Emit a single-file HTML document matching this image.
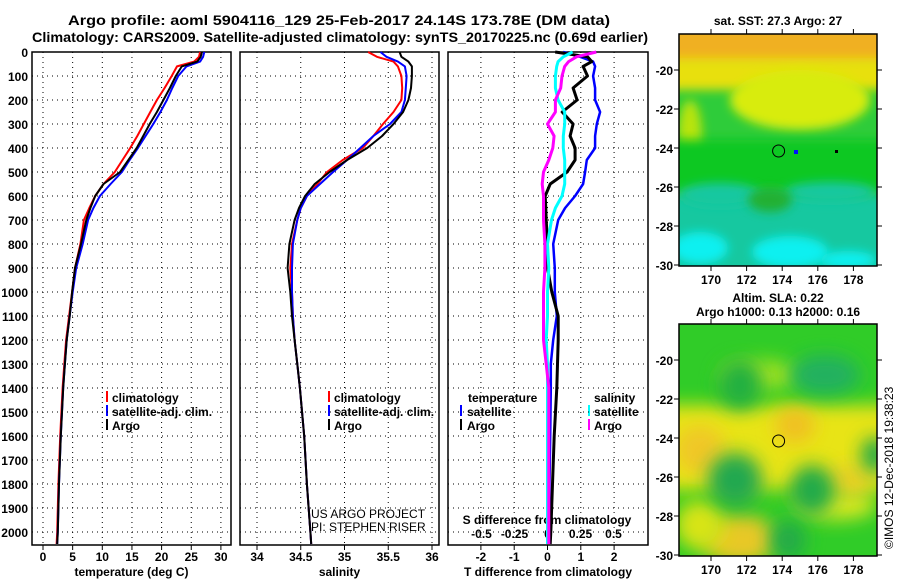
<!DOCTYPE html>
<html><head><meta charset="utf-8"><style>
html,body{margin:0;padding:0;background:#fff;}
svg{display:block;font-family:"Liberation Sans",sans-serif;font-weight:bold;}
</style></head><body>
<svg id="c" width="900" height="580" viewBox="0 0 900 580">
<defs>
<filter id="bl" x="-60%" y="-60%" width="220%" height="220%"><feGaussianBlur stdDeviation="9"/></filter>
<filter id="bl2" x="-60%" y="-60%" width="220%" height="220%"><feGaussianBlur stdDeviation="5"/></filter>
<clipPath id="cm1"><rect x="679" y="34" width="198" height="232"/></clipPath>
<clipPath id="cm2"><rect x="679" y="324" width="198" height="232"/></clipPath>
</defs>
<text x="68" y="25" textLength="542" lengthAdjust="spacingAndGlyphs" font-size="14">Argo profile: aoml 5904116_129 25-Feb-2017 24.14S 173.78E (DM data)</text>
<text x="32" y="42" textLength="616" lengthAdjust="spacingAndGlyphs" font-size="14">Climatology: CARS2009. Satellite-adjusted climatology: synTS_20170225.nc (0.69d earlier)</text>

<g>
<g clip-path="url(#cm1)">
<rect x="679" y="34" width="198" height="232" fill="#2ecc3a"/>
<rect x="660" y="20" width="240" height="50" fill="#f0b020" filter="url(#bl2)"/>
<rect x="660" y="58" width="240" height="32" fill="#e8e010" filter="url(#bl2)"/>
<ellipse cx="800" cy="100" rx="70" ry="30" fill="#d8ec10" filter="url(#bl2)"/>
<ellipse cx="690" cy="135" rx="12" ry="35" fill="#b8e410" filter="url(#bl2)"/>
<rect x="660" y="140" width="240" height="50" fill="#10c820" filter="url(#bl2)"/>
<rect x="660" y="195" width="240" height="90" fill="#12c8a0" filter="url(#bl2)"/>
<ellipse cx="720" cy="195" rx="40" ry="12" fill="#12c8a0" filter="url(#bl2)"/>
<ellipse cx="830" cy="192" rx="45" ry="10" fill="#12c8a0" filter="url(#bl2)"/>
<ellipse cx="770" cy="200" rx="22" ry="12" fill="#20b030" filter="url(#bl2)"/>
<ellipse cx="700" cy="248" rx="28" ry="16" fill="#10f0f0" filter="url(#bl2)"/>
<ellipse cx="790" cy="252" rx="38" ry="16" fill="#10f0f0" filter="url(#bl2)"/>
<ellipse cx="848" cy="260" rx="28" ry="9" fill="#10f0f0" filter="url(#bl2)"/>
<rect x="794" y="150" width="4" height="4" fill="#0010ff"/>
<rect x="835" y="150" width="3" height="3" fill="#000"/>
</g>
<rect x="679" y="34" width="198" height="232" fill="none" stroke="#000" stroke-width="1.5"/>
<circle cx="778.6" cy="151" r="6" fill="none" stroke="#000"/>
<text x="778" y="25" text-anchor="middle" font-size="12">sat. SST: 27.3 Argo: 27</text>
</g>
<g>
<g clip-path="url(#cm2)">
<rect x="679" y="324" width="198" height="232" fill="#30cc28"/>
<rect x="660" y="405" width="240" height="85" fill="#e8e418" filter="url(#bl)"/>
<ellipse cx="700" cy="450" rx="25" ry="25" fill="#f0c828" filter="url(#bl)"/>
<ellipse cx="795" cy="425" rx="20" ry="18" fill="#f0c020" filter="url(#bl)"/>
<ellipse cx="760" cy="375" rx="40" ry="15" fill="#a0e020" filter="url(#bl)"/>
<ellipse cx="740" cy="540" rx="38" ry="25" fill="#e8c828" filter="url(#bl)"/>
<ellipse cx="700" cy="525" rx="25" ry="25" fill="#d8e418" filter="url(#bl)"/>
<ellipse cx="835" cy="505" rx="42" ry="15" fill="#d8e820" filter="url(#bl)"/>
<ellipse cx="850" cy="480" rx="25" ry="15" fill="#e8d028" filter="url(#bl)"/>
<ellipse cx="735" cy="480" rx="27" ry="27" fill="#20a850" filter="url(#bl)"/>
<ellipse cx="740" cy="385" rx="22" ry="25" fill="#22b040" filter="url(#bl)"/>
<ellipse cx="825" cy="375" rx="35" ry="20" fill="#20b060" filter="url(#bl)"/>
<ellipse cx="812" cy="490" rx="22" ry="25" fill="#22aa48" filter="url(#bl)"/>
<ellipse cx="788" cy="540" rx="18" ry="20" fill="#22aa48" filter="url(#bl)"/>
<ellipse cx="875" cy="455" rx="14" ry="18" fill="#22aa48" filter="url(#bl)"/>
</g>
<rect x="679" y="324" width="198" height="232" fill="none" stroke="#000" stroke-width="1.5"/>
<circle cx="778.6" cy="441" r="6" fill="none" stroke="#000"/>
<text x="778" y="302" text-anchor="middle" font-size="12">Altim. SLA: 0.22</text>
<text x="778" y="316" text-anchor="middle" font-size="12">Argo h1000: 0.13 h2000: 0.16</text>
</g>
<text transform="translate(893,549) rotate(-90)" font-size="12" font-weight="normal">©IMOS 12-Dec-2018 19:38:23</text>

<g>
<rect x="106" y="391" width="2" height="11" fill="#f00"/><text x="112" y="402" font-size="12">climatology</text>
<rect x="106" y="405" width="2" height="11" fill="#00f"/><text x="112" y="416" font-size="12">satellite-adj. clim.</text>
<rect x="106" y="419" width="2" height="11" fill="#000"/><text x="112" y="430" font-size="12">Argo</text>
</g>
<g>
<rect x="328" y="391" width="2" height="11" fill="#f00"/><text x="334" y="402" font-size="12">climatology</text>
<rect x="328" y="405" width="2" height="11" fill="#00f"/><text x="334" y="416" font-size="12">satellite-adj. clim.</text>
<rect x="328" y="419" width="2" height="11" fill="#000"/><text x="334" y="430" font-size="12">Argo</text>
</g>
<text x="311" y="518" font-size="12" font-weight="normal">US ARGO PROJECT</text>
<text x="311" y="531" font-size="12" font-weight="normal">PI: STEPHEN RISER</text>
<g>
<text x="468" y="402" font-size="12">temperature</text>
<rect x="460" y="405" width="2" height="11" fill="#00f"/><text x="467" y="416" font-size="12">satellite</text>
<rect x="460" y="419" width="2" height="11" fill="#000"/><text x="467" y="430" font-size="12">Argo</text>
<text x="594" y="402" font-size="12">salinity</text>
<rect x="588" y="405" width="2" height="11" fill="#0ff"/><text x="594" y="416" font-size="12">satellite</text>
<rect x="588" y="419" width="2" height="11" fill="#f0f"/><text x="594" y="430" font-size="12">Argo</text>
</g>
<text x="547" y="524" text-anchor="middle" font-size="12">S difference from climatology</text>
</svg>
<script>
const depths=[0,20,40,60,100,150,200,250,300,350,400,450,500,550,600,650,700,800,900,1000,1100,1200,1300,1400,1600,1800,2000,2050];
const tempClim=[26.5,26.3,25.5,22.6,21.7,20.5,19.2,18.1,17.0,15.9,14.7,13.4,12.1,10.2,8.8,7.8,6.9,6.3,5.4,4.9,4.4,3.9,3.6,3.3,2.9,2.6,2.4,2.3];
const tempSat=[27.2,27.0,26.5,24.2,22.8,21.8,20.9,19.8,18.6,17.3,16.0,14.6,13.3,11.4,9.6,8.5,7.6,6.7,5.6,5.0,4.5,4.0,3.7,3.4,3.0,2.7,2.5,2.4];
const tempArgo=[26.8,26.6,26.0,23.4,22.4,21.4,20.3,19.2,18.0,16.9,15.8,14.4,13.0,10.2,8.8,8.0,7.3,6.4,5.4,4.9,4.5,4.0,3.7,3.4,3.0,2.7,2.5,2.4];
const salClim=[35.27,35.37,35.56,35.61,35.65,35.66,35.65,35.56,35.44,35.33,35.21,34.98,34.80,34.69,34.57,34.50,34.46,34.40,34.38,34.40,34.41,34.43,34.46,34.49,34.54,34.57,34.61,34.62];
const salSat=[35.41,35.48,35.61,35.69,35.71,35.70,35.69,35.65,35.52,35.33,35.18,35.03,34.87,34.72,34.57,34.50,34.46,34.41,34.40,34.40,34.41,34.43,34.46,34.49,34.54,34.57,34.61,34.62];
const salArgo=[35.63,35.65,35.73,35.77,35.77,35.76,35.73,35.67,35.56,35.43,35.26,35.03,34.83,34.66,34.55,34.48,34.43,34.37,34.35,34.38,34.40,34.43,34.46,34.49,34.54,34.57,34.61,34.62];
const dTSat=[0.47,0.98,1.37,1.43,1.37,1.43,1.43,1.58,1.48,1.43,1.43,1.18,1.13,1.07,0.83,0.53,0.32,0.17,0.22,0.22,0.28,0.17,0.1,0.1,0.08,0.06,0.05,0.05];
const dTArgo=[0.23,1.2,1.33,1.07,1.2,0.77,0.89,0.44,0.77,0.68,0.83,0.83,0.59,0.08,-0.07,-0.05,-0.04,0,0,0.13,0.32,0.32,0.3,0.28,0.2,0.15,0.1,0.08];
const dSSat=[0.19,0.12,0.08,0.07,0.06,0.06,0.08,0.13,0.13,0.12,0.12,0.13,0.13,0.13,0.11,0.06,0.03,0,0.01,0,0,-0.01,0,0,0,0,0,0];
const dSArgo=[0.37,0.22,0.16,0.13,0.11,0.10,0.06,0.06,0,0.05,0.04,0.01,-0.03,-0.04,-0.03,-0.03,-0.03,-0.02,-0.02,-0.03,-0.03,-0.03,-0.01,0.01,0.01,0.01,0.01,0.01];
const depthTicks=[0,100,200,300,400,500,600,700,800,900,1000,1100,1200,1300,1400,1500,1600,1700,1800,1900,2000];
const tempTicks=[0,5,10,15,20,25,30];
const salTicks=[34,34.5,35,35.5,36];
const salTickLabels=["34","34.5","35","35.5","36"];
const dTTicks=[-2,-1,0,1,2];
const dSTicks=[-0.5,-0.25,0,0.25,0.5];
const dSTickLabels=["-0.5","-0.25","0","0.25","0.5"];
const latTicks=[-20,-22,-24,-26,-28,-30];
const lonTicks=[170,172,174,176,178];

const svg=document.getElementById('c');
const NS='http://www.w3.org/2000/svg';
const TOP=52,BOT=545;
const yD=d=>TOP+d*0.24;
const xT=t=>43+t*5.93;
const xS=s=>257+(s-34)*87.5;
const xDT=t=>547.5+t*33.3;
const xDS=s=>547.5+s*132;
function mk(tag,attrs,parent){const e=document.createElementNS(NS,tag);for(const k in attrs)e.setAttribute(k,attrs[k]);(parent||svg).appendChild(e);return e;}
function panel(name,x0,x1,xs,labels,xf,title){
  const g=mk('g',{});
  
  
  for(const d of depthTicks){const l=mk('line',{x1:x0,x2:x1,y1:yD(d),y2:yD(d),stroke:'#000','stroke-dasharray':'1 4','stroke-width':1},g);
    
    }
  xs.forEach((v,i)=>{const x=xf(v);const l=mk('line',{x1:x,x2:x,y1:TOP,y2:BOT,stroke:'#000','stroke-dasharray':'1 4','stroke-width':1},g);
    
    
    mk('line',{x1:x,x2:x,y1:BOT,y2:BOT+5,stroke:'#000'},g);
    if(labels){const t=mk('text',{x:x,y:BOT+16,'text-anchor':'middle','font-size':12},g);t.textContent=labels[i];
      
      }});
  mk('rect',{x:x0,y:TOP,width:x1-x0,height:BOT-TOP,fill:'none',stroke:'#000','stroke-width':1.5},g);
  if(title){const t=mk('text',{x:(x0+x1)/2,y:BOT+31,'text-anchor':'middle','font-size':12},g);t.textContent=title;
    
    }
  return g;
}
function series(name,vals,xf,color,w){
  const pts=vals.map((v,i)=>xf(v).toFixed(1)+','+yD(depths[i]).toFixed(1)).join(' ');
  const p=mk('polyline',{points:pts,fill:'none',stroke:color,'stroke-width':w,'stroke-linejoin':'round'});
  
  
}
panel('temperature-panel',32,231,tempTicks,tempTicks.map(String),xT,'temperature (deg C)');
panel('salinity-panel',240,439,salTicks,salTickLabels,xS,'salinity');
panel('difference-panel',448,648,dTTicks,dTTicks.map(String),xDT,'T difference from climatology');
dSTicks.forEach((v,i)=>{const t=mk('text',{x:xDS(v),y:538,'text-anchor':'middle','font-size':12});t.textContent=dSTickLabels[i];
  
  });
for(const d of depthTicks){const t=mk('text',{x:28,y:yD(d)+5,'text-anchor':'end','font-size':12});t.textContent=d;
  
  }
series('temp-climatology',tempClim,xT,'#f00',2);
series('temp-satellite',tempSat,xT,'#00f',2);
series('temp-argo',tempArgo,xT,'#000',2);
series('sal-climatology',salClim,xS,'#f00',2);
series('sal-satellite',salSat,xS,'#00f',2);
series('sal-argo',salArgo,xS,'#000',2);
series('dt-satellite',dTSat,xDT,'#00f',2.5);
series('dt-argo',dTArgo,xDT,'#000',3);
series('ds-satellite',dSSat,xDS,'#0ff',3);
series('ds-argo',dSArgo,xDS,'#f0f',3);
function mapAxes(name,yOff){
  const lx=l=>711+(l-170)*17.8;
  const ly=a=>yOff+(-a-20)*19.5;
  for(const a of latTicks){const y=ly(a);mk('line',{x1:674,x2:679,y1:y,y2:y,stroke:'#000'});mk('line',{x1:877,x2:882,y1:y,y2:y,stroke:'#000'});
    const t=mk('text',{x:673,y:y+5,'text-anchor':'end','font-size':12});t.textContent=a;
    
    }
  for(const l of lonTicks){const x=lx(l);mk('line',{x1:x,x2:x,y1:yOff-36,y2:yOff-41,stroke:'#000'});mk('line',{x1:x,x2:x,y1:yOff+196,y2:yOff+201,stroke:'#000'});
    const t=mk('text',{x:x,y:yOff+214,'text-anchor':'middle','font-size':12});t.textContent=l;
    
    }
}
mapAxes('sst-map',70);
mapAxes('sla-map',360);
</script>
</body></html>
